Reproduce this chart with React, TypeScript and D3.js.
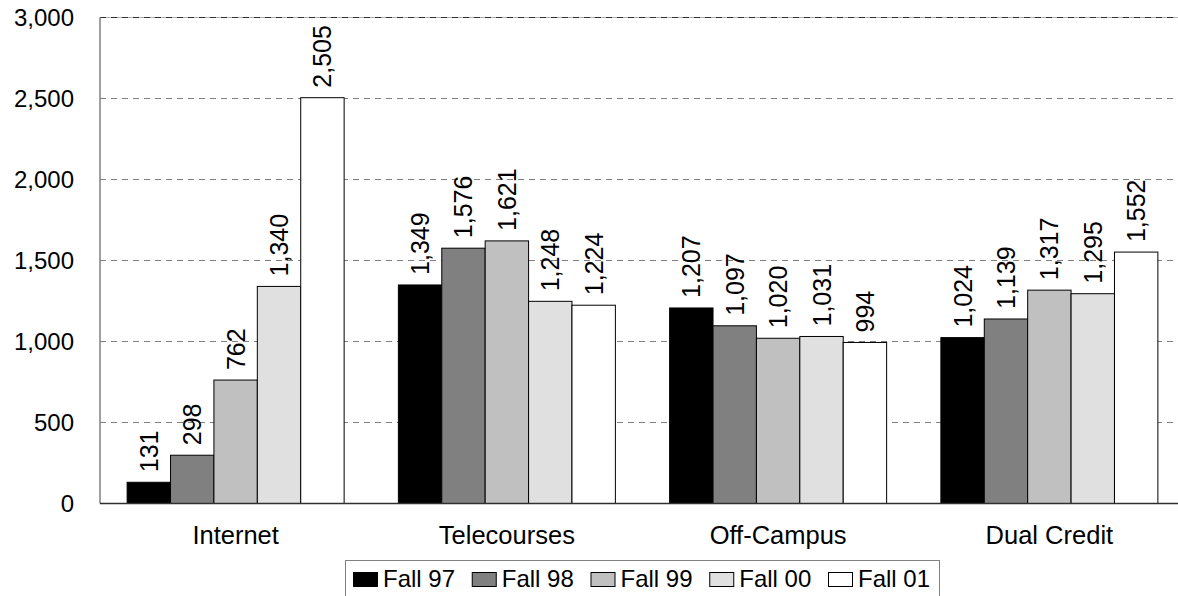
import React from "react";
import * as d3 from "d3";

const categories = ["Internet", "Telecourses", "Off-Campus", "Dual Credit"];
const seriesNames = ["Fall 97", "Fall 98", "Fall 99", "Fall 00", "Fall 01"];
const fall97 = [131, 1349, 1207, 1024];
const fall98 = [298, 1576, 1097, 1139];
const fall99 = [762, 1621, 1020, 1317];
const fall00 = [1340, 1248, 1031, 1295];
const fall01 = [2505, 1224, 994, 1552];
const seriesValues = [fall97, fall98, fall99, fall00, fall01];
const seriesColors = ["#000000", "#808080", "#c0c0c0", "#e0e0e0", "#ffffff"];
const yTicks = [0, 500, 1000, 1500, 2000, 2500, 3000];

const W = 1178;
const H = 596;
const FONT = "'Liberation Sans', Arial, sans-serif";

export default function App() {
  const x0 = d3.scaleBand<string>().domain(categories).range([100, 1185]).padding(0);
  const x1 = d3
    .scaleBand<string>()
    .domain(seriesNames)
    .range([0, x0.bandwidth()])
    .paddingInner(0)
    .paddingOuter(0.625);
  const y = d3.scaleLinear().domain([0, 3000]).range([503.5, 17.5]);
  const fmt = d3.format(",");

  const legendX = 353;
  const legendStep = 118.75;

  return (
    <svg
      width={W}
      height={H}
      style={{ position: "absolute", left: 0, top: 0, background: "#fff" }}
      fontFamily={FONT}
    >
      {/* gridlines */}
      {yTicks.filter((t) => t > 0 && t < 3000).map((t) => (
        <line
          key={"g" + t}
          x1={100}
          x2={W}
          y1={y(t)}
          y2={y(t)}
          stroke="#808080"
          strokeWidth={1}
          strokeDasharray="6,5"
        />
      ))}
      <line x1={100} x2={W} y1={y(3000)} y2={y(3000)} stroke="#b0b0b0" strokeWidth={1} />
      <line
        x1={100}
        x2={W}
        y1={y(3000)}
        y2={y(3000)}
        stroke="#303030"
        strokeWidth={1}
        strokeDasharray="6,5"
      />
      {/* left axis */}
      <line x1={100} x2={100} y1={y(3000)} y2={y(0)} stroke="#808080" strokeWidth={1.5} />
      {/* y tick labels */}
      {yTicks.map((t) => (
        <text
          key={"t" + t}
          x={74}
          y={y(t)}
          dy="0.36em"
          textAnchor="end"
          fontSize={24}
          fill="#000"
        >
          {fmt(t)}
        </text>
      ))}
      {/* bars */}
      {categories.map((c, ci) => (
        <g key={c} transform={`translate(${x0(c)},0)`}>
          {seriesNames.map((s, si) => {
            const v = seriesValues[si][ci];
            const bx = x1(s)!;
            const bw = x1.bandwidth();
            return (
              <rect
                key={s}
                x={bx}
                y={y(v)}
                width={bw}
                height={y(0) - y(v)}
                fill={seriesColors[si]}
                stroke="#000"
                strokeWidth={1}
              />
            );
          })}
          {seriesNames.map((s, si) => {
            const v = seriesValues[si][ci];
            const cx = x1(s)! + x1.bandwidth() / 2;
            const ty = y(v) - 10;
            return (
              <text
                key={"l" + s}
                transform={`translate(${cx},${ty}) rotate(-90)`}
                dy="0.36em"
                textAnchor="start"
                fontSize={25}
                fill="#000"
              >
                {fmt(v)}
              </text>
            );
          })}
        </g>
      ))}
      {/* bottom axis */}
      <line x1={100} x2={W} y1={y(0)} y2={y(0)} stroke="#303030" strokeWidth={1.5} />
      {/* category labels */}
      {categories.map((c) => (
        <text
          key={"c" + c}
          x={x0(c)! + x0.bandwidth() / 2}
          y={544}
          textAnchor="middle"
          fontSize={25.5}
          fill="#000"
        >
          {c}
        </text>
      ))}
      {/* legend */}
      <rect x={345.5} y={560.5} width={594} height={60} fill="#fff" stroke="#808080" strokeWidth={1} />
      {seriesNames.map((s, si) => (
        <g key={"lg" + s} transform={`translate(${legendX + si * legendStep},0)`}>
          <rect
            x={0.5}
            y={572.5}
            width={24}
            height={14}
            fill={seriesColors[si]}
            stroke="#000"
            strokeWidth={1}
          />
          <text x={30} y={587} fontSize={24} fill="#000">
            {s}
          </text>
        </g>
      ))}
    </svg>
  );
}
